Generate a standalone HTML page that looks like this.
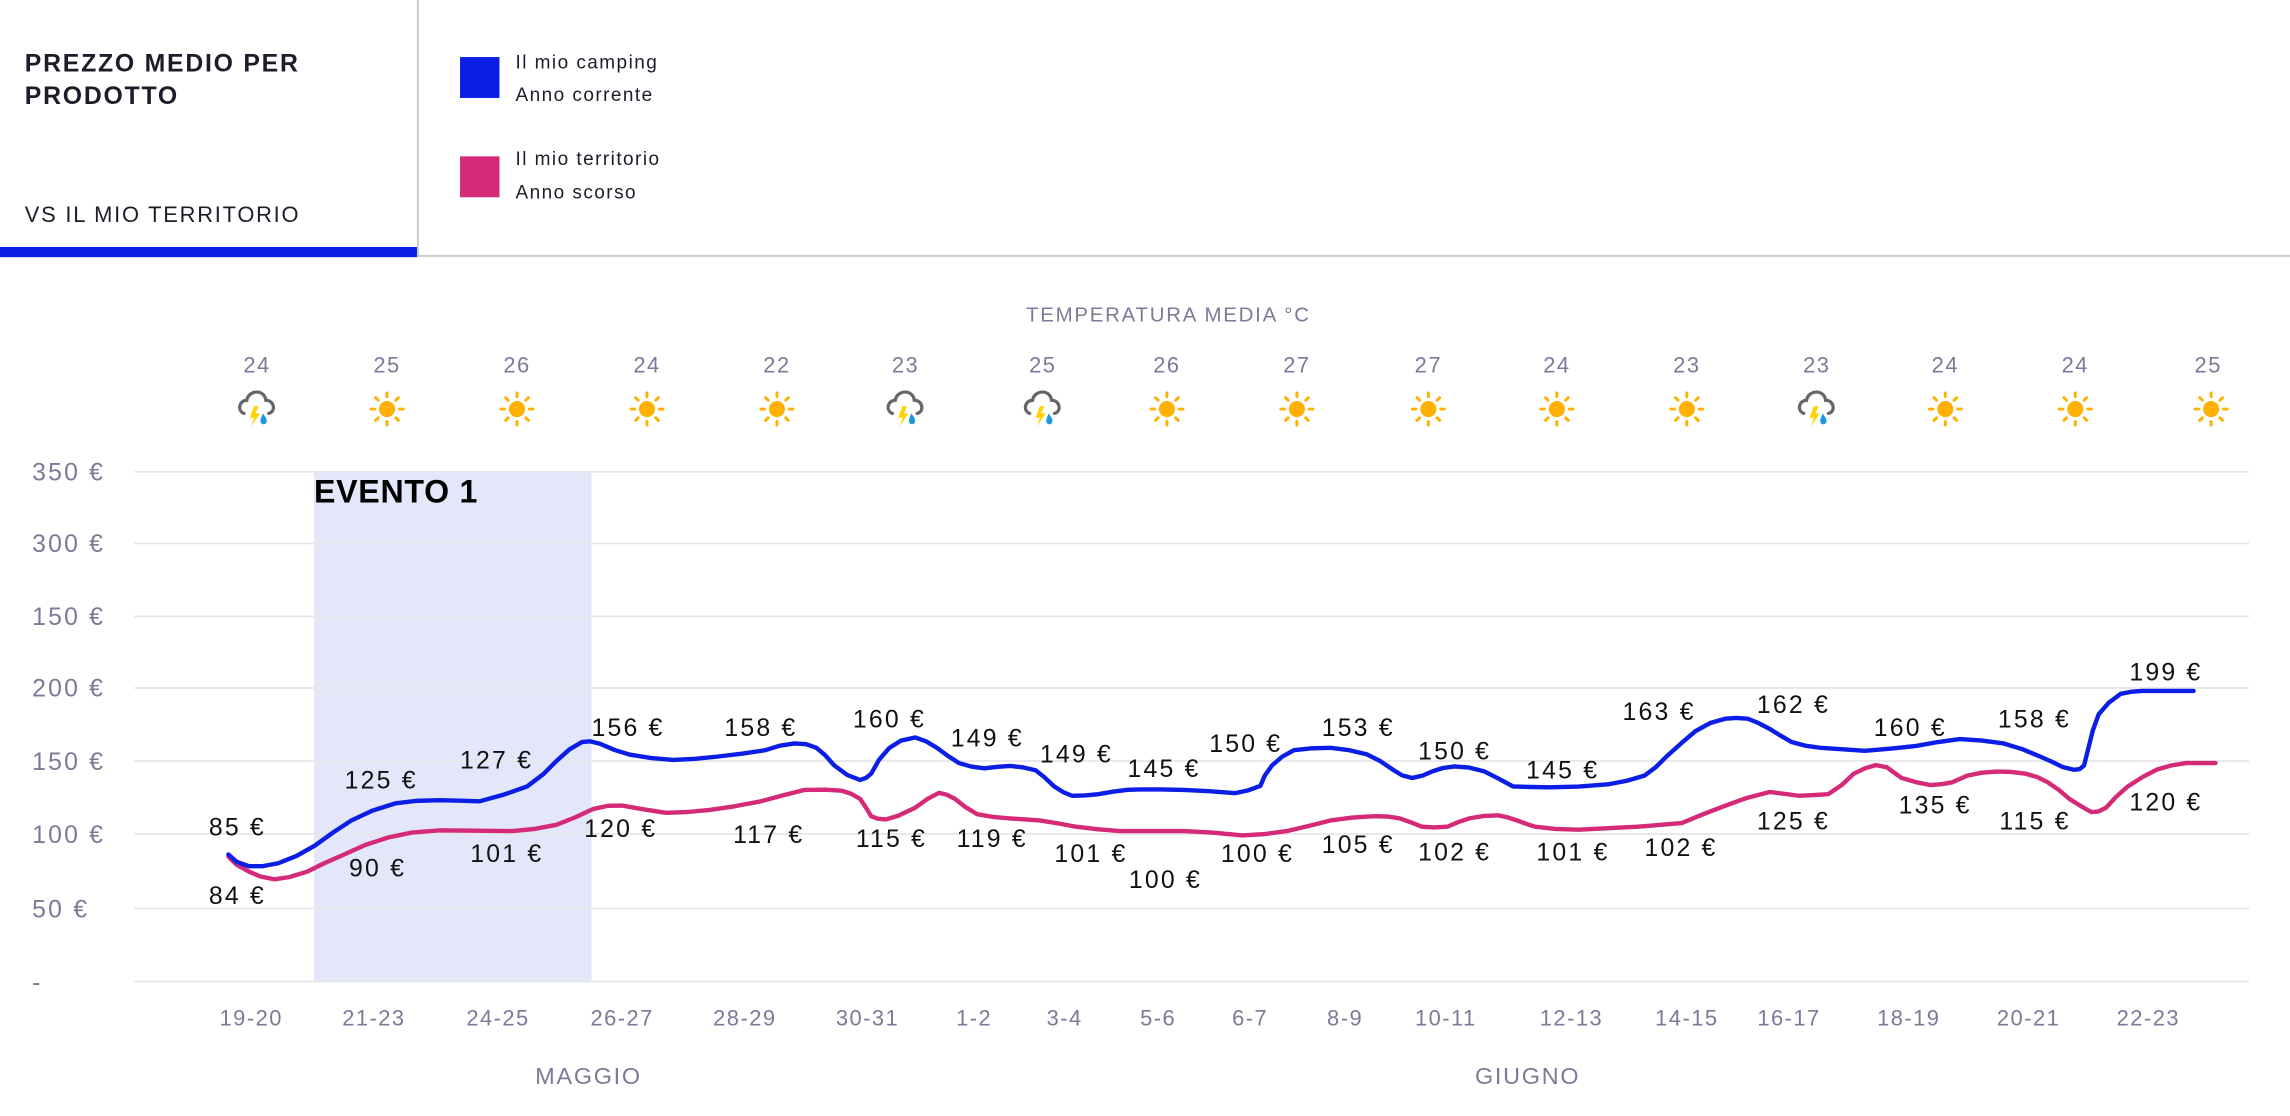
<!DOCTYPE html>
<html><head><meta charset="utf-8"><style>
html,body{margin:0;padding:0;background:#fff;}
svg{display:block;}
text{font-family:"Liberation Sans",sans-serif;}
</style></head><body>
<svg width="2290" height="1116" viewBox="0 0 1568 764" xmlns="http://www.w3.org/2000/svg">
<defs>
<g id="sun">
<circle cx="0" cy="0" r="5.5" fill="#ffb000"/>
<g stroke="#ffb000" stroke-width="2" stroke-linecap="round">
<line x1="0" y1="-8.5" x2="0" y2="-11"/><line x1="0" y1="8.5" x2="0" y2="11"/>
<line x1="-8.5" y1="0" x2="-11" y2="0"/><line x1="8.5" y1="0" x2="11" y2="0"/>
<line x1="6" y1="6" x2="7.8" y2="7.8"/><line x1="-6" y1="6" x2="-7.8" y2="7.8"/>
<line x1="6" y1="-6" x2="7.8" y2="-7.8"/><line x1="-6" y1="-6" x2="-7.8" y2="-7.8"/>
</g></g>
<g id="storm">
<path d="M-9,4 C-14,2 -12,-5 -7,-5 C-6,-12 5,-13 6,-5 C12,-5 13,3 8,4" fill="none" stroke="#666" stroke-width="2.2" stroke-linecap="round"/>
<path d="M-2,-1 L-5,7 L-2,7 L-4,13 L2,4 L-1,4 L1,-1 Z" fill="#ffd400"/>
<path d="M4,4 C6,7 7,8 6.5,10 C6,12 3,12 2.5,10 C2,8 3,7 4,4 Z" fill="#1a9be0"/>
</g>
</defs>

<!-- header -->
<text x="17" y="49" font-size="17" font-weight="bold" fill="#1b1d2a" letter-spacing="1.2">PREZZO MEDIO PER</text>
<text x="17" y="71" font-size="17" font-weight="bold" fill="#1b1d2a" letter-spacing="1.2">PRODOTTO</text>
<text x="17" y="152" font-size="15" fill="#1b1d2a" letter-spacing="1.2">VS IL MIO TERRITORIO</text>
<rect x="0" y="169" width="286" height="7" fill="#0a1ee6"/>
<rect x="285.5" y="0" width="1.3" height="176" fill="#c8c8c8"/>
<rect x="286" y="174.5" width="1282" height="1.3" fill="#c8c8c8"/>
<rect x="315" y="39" width="27" height="28" fill="#0a1ee6"/>
<rect x="315" y="107" width="27" height="28" fill="#d42a78"/>
<g font-size="13" fill="#1b1d2a" letter-spacing="1">
<text x="353" y="47">Il mio camping</text>
<text x="353" y="69">Anno corrente</text>
<text x="353" y="113">Il mio territorio</text>
<text x="353" y="136">Anno scorso</text>
</g>

<!-- temperature -->
<text x="800" y="220" font-size="14" fill="#7a7a99" text-anchor="middle" letter-spacing="1.2">TEMPERATURA MEDIA °C</text>
<g font-size="15" fill="#7a7a99" text-anchor="middle" letter-spacing="1">
<text x="176" y="255">24</text><text x="265" y="255">25</text><text x="354" y="255">26</text>
<text x="443" y="255">24</text><text x="532" y="255">22</text><text x="620" y="255">23</text>
<text x="714" y="255">25</text><text x="799" y="255">26</text><text x="888" y="255">27</text>
<text x="978" y="255">27</text><text x="1066" y="255">24</text><text x="1155" y="255">23</text>
<text x="1244" y="255">23</text><text x="1332" y="255">24</text><text x="1421" y="255">24</text>
<text x="1512" y="255">25</text>
</g>
<use href="#storm" x="176" y="279"/><use href="#sun" x="265" y="280"/><use href="#sun" x="354" y="280"/>
<use href="#sun" x="443" y="280"/><use href="#sun" x="532" y="280"/><use href="#storm" x="620" y="279"/>
<use href="#storm" x="714" y="279"/><use href="#sun" x="799" y="280"/><use href="#sun" x="888" y="280"/>
<use href="#sun" x="978" y="280"/><use href="#sun" x="1066" y="280"/><use href="#sun" x="1155" y="280"/>
<use href="#storm" x="1244" y="279"/><use href="#sun" x="1332" y="280"/><use href="#sun" x="1421" y="280"/>
<use href="#sun" x="1514" y="280"/>

<!-- event band -->
<rect x="215" y="323" width="190" height="349" fill="#e4e6fa"/>

<!-- grid -->
<g stroke="#e6e6ea" stroke-width="1.2">
<line x1="92" y1="323" x2="1540" y2="323"/><line x1="92" y1="372" x2="1540" y2="372"/>
<line x1="92" y1="422" x2="1540" y2="422"/><line x1="92" y1="471" x2="1540" y2="471"/>
<line x1="92" y1="521" x2="1540" y2="521"/><line x1="92" y1="571" x2="1540" y2="571"/>
<line x1="92" y1="622" x2="1540" y2="622"/><line x1="92" y1="672" x2="1540" y2="672"/>
</g>
<g font-size="17" fill="#7a7a99" letter-spacing="1.5">
<text x="22" y="329">350 €</text><text x="22" y="378">300 €</text><text x="22" y="428">150 €</text>
<text x="22" y="477">200 €</text><text x="22" y="527">150 €</text><text x="22" y="577">100 €</text>
<text x="22" y="628">50 €</text><text x="22" y="678">-</text>
</g>
<text x="215" y="344" font-size="22" font-weight="bold" fill="#000" letter-spacing="0.5">EVENTO 1</text>

<!-- series -->
<polyline fill="none" stroke="#d42a78" stroke-width="3" stroke-linejoin="round" stroke-linecap="round"
points="156.4,586.5 162,592 170.4,596.7 178,600 188,602 198,600.5 210.5,596.7 222,591 235.6,585 250,578.5 265.7,573.4 282,570 300.8,568.5 325,568.7 351,569 366,567.5 381,564.7 394,559.5 406,553.9 416,551.7 426,551.5 440,554 456,556.5 470,556 486,554.5 503,552 521,548.6 536,544.5 551,540.8 565,540.6 576.4,541.3 583,543.5 589,547 593,553 596.5,558.8 601,560.5 606.5,561 615,558.5 626.6,553 635,547 643,542.8 648,544 654,547 661,552.5 669,557.4 680,559.3 691.7,560.3 711.8,561.7 725,563.8 736.8,566 752,567.8 767,569 780.6,569 810.7,569 830,570 850.8,572 866,571 881,569 896,565.5 911,561.7 926,559.7 941,558.8 950,559 958.5,560.3 966,563 973.6,566 982,566.5 991,566 998,563 1006,560.3 1016,558.6 1026,558.2 1032,559.5 1038.7,561.7 1045,564 1051,566 1065,567.5 1081,568 1101,567 1121.5,566 1136,564.8 1151.5,563.5 1166,557.5 1181.6,551.5 1196,546.3 1211.7,542.2 1222,543.5 1231.7,544.8 1242,544.3 1251.8,543.7 1261,537.5 1269.3,529.7 1277,526 1284.4,523.8 1292,525.3 1297,529 1302,532.6 1312,535.5 1322,537.5 1330,536.8 1337,535.5 1347,531 1357,529 1367,528.2 1377,528.5 1387,529.7 1395,532 1402,535.5 1410,541 1417,547 1425,552 1432,556 1437,555.5 1442,553 1449,545.5 1457,538.4 1467,532 1477,526.8 1487,524 1497,522.4 1517,522.4"/>
<polyline fill="none" stroke="#0a1ee6" stroke-width="3" stroke-linejoin="round" stroke-linecap="round"
points="156.4,585 162,590 170.4,593 180,593 190.5,591 203,586 215.5,579 228,570 240.6,561.7 255,555 270.7,550 285,548.3 300.8,547.8 315,548.2 328.3,548.6 345,544 361,538.4 372,530 381,521 390,513 398.5,508 404,507.5 411,509.3 421,513.5 431,516.6 446,519 461,520.3 476,519.5 491,518 508,516 524,513.6 534,510.5 544,509 552,509.5 559,512 565,517 571,523.8 580,530.5 589,534 593,532.5 596.5,529.7 602,520 609,512 617,507 626.6,504.9 634,507.5 641.6,512 649,517.5 656.6,522.4 665,524.8 674,526 683,525 691.7,524.4 700,525.3 709,527.3 715,532 721.8,538.4 728,542.3 734,544.8 743,544.6 752,543.7 762,542 772,540.7 780.6,540.5 795,540.5 810.7,540.8 828,541.7 845.8,543 855,541 863,538 866,531 871,524 878,518 886,513.6 898,512.3 911,512 924,513.6 936,516.5 945,521 953.5,526.8 960,530.8 967,532.6 974,531 981,528 988,525.8 996,524.7 1006,525.5 1016,528 1026,533 1036,538.4 1048,538.8 1061,539 1081,538.5 1101,537 1114,534.5 1126,531 1134,525 1141,518 1151,509 1161,500.5 1171,495 1181.6,492 1189,491.5 1196.6,492 1204,495 1211.7,499 1219,503.5 1226.7,508 1236,510.5 1246.8,512 1262,513 1277,514 1295,512.5 1312,510.7 1327,508 1342,506 1357,507 1372,509 1385,513 1397,518 1405,521.5 1412,525 1420,527 1424,526.5 1427,524 1430,512 1433,500 1437,489 1444,481 1452,475 1460,473.5 1467,473 1485,473 1502,473"/>

<!-- value labels -->
<g font-size="17" fill="#111" letter-spacing="1.5">
<text x="143" y="572">85 €</text><text x="143" y="619">84 €</text>
<text x="236" y="540">125 €</text><text x="239" y="600">90 €</text>
<text x="315" y="526">127 €</text><text x="322" y="590">101 €</text>
<text x="405" y="504">156 €</text><text x="400" y="573">120 €</text>
<text x="496" y="504">158 €</text><text x="502" y="577">117 €</text>
<text x="584" y="498">160 €</text><text x="586" y="580">115 €</text>
<text x="651" y="511">149 €</text><text x="655" y="580">119 €</text>
<text x="712" y="522">149 €</text><text x="722" y="590">101 €</text>
<text x="772" y="532">145 €</text><text x="773" y="608">100 €</text>
<text x="828" y="515">150 €</text><text x="836" y="590">100 €</text>
<text x="905" y="504">153 €</text><text x="905" y="584">105 €</text>
<text x="971" y="520">150 €</text><text x="971" y="589">102 €</text>
<text x="1045" y="533">145 €</text><text x="1052" y="589">101 €</text>
<text x="1111" y="493">163 €</text><text x="1126" y="586">102 €</text>
<text x="1203" y="488">162 €</text><text x="1203" y="568">125 €</text>
<text x="1283" y="504">160 €</text><text x="1300" y="557">135 €</text>
<text x="1368" y="498">158 €</text><text x="1369" y="568">115 €</text>
<text x="1458" y="466">199 €</text><text x="1458" y="555">120 €</text>
</g>

<!-- x axis -->
<g font-size="15" fill="#7a7a99" text-anchor="middle" letter-spacing="1">
<text x="172" y="702">19-20</text><text x="256" y="702">21-23</text><text x="341" y="702">24-25</text>
<text x="426" y="702">26-27</text><text x="510" y="702">28-29</text><text x="594" y="702">30-31</text>
<text x="667" y="702">1-2</text><text x="729" y="702">3-4</text><text x="793" y="702">5-6</text>
<text x="856" y="702">6-7</text><text x="921" y="702">8-9</text><text x="990" y="702">10-11</text>
<text x="1076" y="702">12-13</text><text x="1155" y="702">14-15</text><text x="1225" y="702">16-17</text>
<text x="1307" y="702">18-19</text><text x="1389" y="702">20-21</text><text x="1471" y="702">22-23</text>
</g>
<g font-size="16" fill="#7a7a99" text-anchor="middle" letter-spacing="1.2">
<text x="403" y="742">MAGGIO</text><text x="1046" y="742">GIUGNO</text>
</g>
</svg>
</body></html>
